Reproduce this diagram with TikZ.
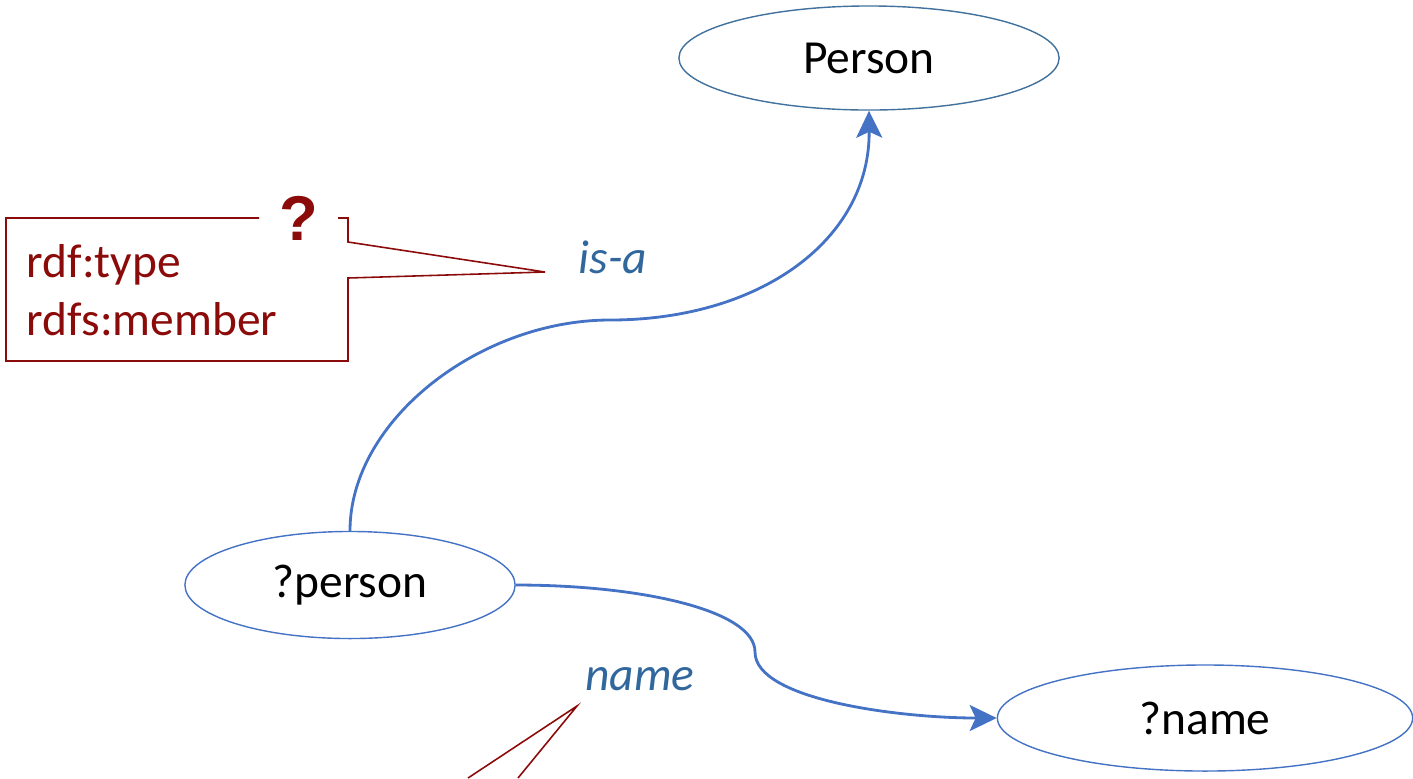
\documentclass[tikz,border=0pt]{standalone}
\usepackage{fontspec}
\setmainfont{Carlito}
\newfontfamily\qfont{Liberation Sans}
\usetikzlibrary{shapes.geometric,arrows.meta}
\definecolor{nodeblue}{HTML}{4472C4}
\definecolor{darknodeblue}{HTML}{41719C}
\definecolor{labelblue}{HTML}{31679C}
\definecolor{noteRed}{HTML}{8B0A0A}
\begin{document}
\begin{tikzpicture}[x=0.01cm,y=-0.01cm]\fontsize{13.5}{16.5}\selectfont
      \tikzstyle{term}=[ellipse,draw=nodeblue,line width=0.4pt,inner sep=0pt]
      \tikzstyle{predicate}=[text=labelblue,font=\itshape,anchor=base]
      \tikzstyle{link}=[draw=nodeblue,line width=0.8pt,-{Stealth[length=2.7mm,width=2.6mm,inset=0.6mm]}]
      \tikzstyle{note}=[draw=noteRed,line width=0.45pt,line join=miter]
      \tikzstyle{notetext}=[text=noteRed,anchor=base west,inner sep=0pt]
      \useasboundingbox (0,0) rectangle (1413,778);
      \node[term,draw=darknodeblue,minimum width=3.8cm,minimum height=1.04cm] (person) at (869,58) {Person};
      \node[term,minimum width=3.3cm,minimum height=1.07cm] (pvar) at (350,585) {?person};
      \node[term,minimum width=4.15cm,minimum height=1.06cm] (nvar) at (1205,718) {?name};
      \node[predicate] (isa) at (613,273) {is-a};
      \node[predicate] (name) at (640,690) {name};
      \coordinate (isamid) at (610,320);
      \coordinate (namemid) at (755,652);
      \draw[link] (pvar.north) .. controls (350,420) and (480,320) .. (isamid)
            .. controls (760,320) and (870,240) .. (person.south);
      \draw[link] (pvar.east) .. controls (640,585) and (755,610) .. (namemid)
            .. controls (755,700) and (900,718) .. (nvar.west);
      \coordinate (isatip) at (545,272);
      \coordinate (nametip) at (577,706);
      \draw[note] (259,218) -- (6,218) -- (6,361) -- (348,361) -- (348,278)
            -- (isatip) -- (348,242) -- (348,218) -- (338,218);
      \node[notetext] (type) at (26,277) {rdf:type};
      \node[notetext] (member) at (26,335) {rdfs:member};
      \node[text=noteRed,anchor=base,inner sep=0pt,font=\qfont\fontsize{18}{22}\selectfont\bfseries] (qmark) at (299,240) {?};
      \draw[note] (468,778) -- (nametip) -- (518,778);
\end{tikzpicture}
\end{document}
